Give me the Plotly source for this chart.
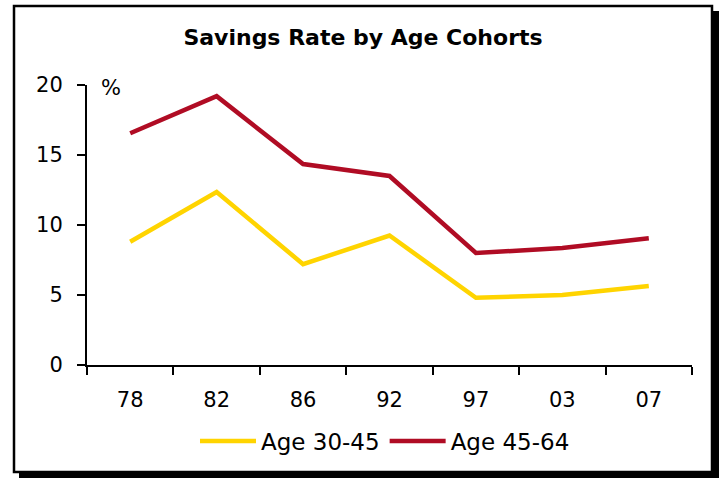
import plotly.graph_objects as go

# Datos del grafico
years = ["78", "82", "86", "92", "97", "03", "07"]
age_30_45 = [8.8, 12.35, 7.2, 9.25, 4.8, 5.0, 5.65]
age_45_64 = [16.55, 19.2, 14.35, 13.5, 8.0, 8.35, 9.05]

W, H = 719, 478
ML, MR, MT, MB = 87, 27, 85, 113
PW, PH = W - ML - MR, H - MT - MB


def px_x(px):
    # pixel horizontal -> coordenada paper
    return (px - ML) / PW


def px_y(py):
    # pixel vertical -> coordenada paper
    return (H - MB - py) / PH


FONT = "DejaVu Sans, Verdana, sans-serif"

fig = go.Figure()
fig.add_trace(go.Scatter(x=years, y=age_30_45, mode="lines", name="Age 30-45",
                         line=dict(color="#FFD400", width=4.5)))
fig.add_trace(go.Scatter(x=years, y=age_45_64, mode="lines", name="Age 45-64",
                         line=dict(color="#B00C24", width=4.5)))

# Marco con sombra
fig.add_shape(type="rect", xref="paper", yref="paper", layer="below",
              x0=px_x(19), x1=px_x(719), y0=px_y(478), y1=px_y(11),
              fillcolor="black", line=dict(width=0))
fig.add_shape(type="rect", xref="paper", yref="paper", layer="below",
              x0=px_x(14), x1=px_x(712), y0=px_y(472), y1=px_y(6),
              fillcolor="white", line=dict(color="black", width=2.5))

fig.add_annotation(text="%", xref="paper", yref="paper", x=px_x(111), y=px_y(88),
                   xanchor="center", yanchor="middle", showarrow=False,
                   font=dict(size=21, color="black", family=FONT))

fig.update_layout(
    width=W, height=H,
    margin=dict(l=ML, r=MR, t=MT, b=MB),
    paper_bgcolor="white", plot_bgcolor="white",
    font=dict(family=FONT, size=21, color="black"),
    title=dict(text="<b>Savings Rate by Age Cohorts</b>", x=363 / W, xanchor="center",
               y=1 - 37 / H, yanchor="middle", font=dict(size=22, family=FONT)),
    xaxis=dict(type="category", range=[-0.5, 6.5], tickson="boundaries",
               showline=True, linecolor="black", linewidth=2,
               ticks="outside", ticklen=8, tickwidth=2, tickcolor="black",
               showgrid=False, zeroline=False, ticklabelstandoff=15),
    yaxis=dict(range=[0, 20], dtick=5, showline=True, linecolor="black", linewidth=2,
               ticks="outside", ticklen=8, tickwidth=2, tickcolor="black",
               showgrid=False, zeroline=False, ticklabelstandoff=10),
    legend=dict(orientation="h", x=px_x(385), xanchor="center", y=px_y(441),
                yanchor="middle", itemwidth=56, font=dict(size=23),
                bgcolor="rgba(0,0,0,0)"),
    showlegend=True,
)

# la pagina no debe tener margen para que el marco quede en su sitio
fig.write_html("out.html", config={"displayModeBar": False},
               post_script="document.body.style.margin='0';")
